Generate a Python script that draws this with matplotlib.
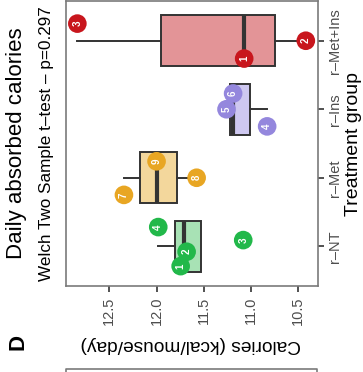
import matplotlib
matplotlib.use('Agg')
import matplotlib.pyplot as plt
from matplotlib.lines import Line2D

plt.rcParams['font.family'] = ['Liberation Sans', 'DejaVu Sans']

# data (calories per mouse per day)
groups = ['r–NT', 'r–Met', 'r–Ins', 'r–Met+Ins']
nt_values = [11.745, 11.682, 11.083, 11.982]
met_values = [12.345, 11.576, 12.000]
ins_values = [10.830, 11.260, 11.190]
metins_values = [11.073, 10.421, 12.838]
nt_ids = ['1', '2', '3', '4']
met_ids = ['7', '8', '9']
ins_ids = ['4', '5', '6']
metins_ids = ['1', '2', '3']
nt_jitter = [-0.29, -0.08, 0.09, 0.28]
met_jitter = [-0.25, 0.0, 0.24]
ins_jitter = [-0.25, 0.0, 0.23]
metins_jitter = [-0.26, 0.0, 0.25]

point_colors = ['#22B84A', '#E8A623', '#9487DD', '#C8161D']
fill_colors = ['#A8E2B5', '#F3D79C', '#CEC8F0', '#E39497']

values = [nt_values, met_values, ins_values, metins_values]
ids = [nt_ids, met_ids, ins_ids, metins_ids]
jitters = [nt_jitter, met_jitter, ins_jitter, metins_jitter]

W, H = 363, 372
fig = plt.figure(figsize=(W / 100, H / 100), dpi=100)
ax = fig.add_axes([66 / W, 1 - 286 / H, 252 / W, 285 / H])

pos = [1, 2, 3, 4]
bp = ax.boxplot(values, positions=pos, orientation='horizontal', widths=0.75,
                patch_artist=True, showfliers=False, showcaps=False, whis=1.5)
for patch, fc in zip(bp['boxes'], fill_colors):
    patch.set_facecolor(fc)
    patch.set_edgecolor('#333333')
    patch.set_linewidth(1.4)
for w in bp['whiskers']:
    w.set_color('#333333')
    w.set_linewidth(1.4)
for m in bp['medians']:
    m.set_color('#333333')
    m.set_linewidth(3)

for p, vals, labs, jit, col in zip(pos, values, ids, jitters, point_colors):
    for v, lab, j in zip(vals, labs, jit):
        ax.scatter(v, p + j, s=180, color=col, edgecolors='none', zorder=5)
        ax.text(v, p + j, lab, color='white', fontsize=7, fontweight='bold',
                rotation=90, ha='center', va='center', zorder=6)

ax.set_xlim(12.958, 10.292)
ax.set_ylim(0.42, 4.58)
ax.set_xticks([12.5, 12.0, 11.5, 11.0, 10.5])
ax.set_xticklabels(['12.5', '12.0', '11.5', '11.0', '10.5'], rotation=90,
                   fontsize=10.5, color='#4d4d4d')
ax.set_yticks(pos)
ax.set_yticklabels(groups, rotation=90, va='center', fontsize=10.5, color='#4d4d4d')
ax.yaxis.tick_right()
ax.tick_params(axis='x', length=4, width=1.2, color='#333333', pad=3.5)
ax.tick_params(axis='y', length=4, width=1.2, color='#333333', pad=3)
for s in ax.spines.values():
    s.set_color('#7a7a7a')
    s.set_linewidth(1.2)

def fx(x):
    return x / W

def fy(y):
    return 1 - y / H

fig.text(fx(17), fy(259), 'Daily absorbed calories', rotation=90,
         ha='center', va='bottom', fontsize=16)
fig.text(fx(47), fy(281), 'Welch Two Sample t–test – p=0.297', rotation=90,
         ha='center', va='bottom', fontsize=12.3)
fig.text(fx(354), fy(144), 'Treatment group', rotation=90,
         ha='center', va='center', fontsize=14)
fig.text(fx(191), fy(344), 'Calories (kcal/mouse/day)', rotation=180,
         ha='center', va='center', fontsize=13.8)
fig.text(fx(18), fy(342), 'D', rotation=90, ha='center', va='center',
         fontsize=16, fontweight='bold')

# top edge of the panel below
fig.add_artist(Line2D([fx(66), fx(66), fx(317), fx(317)],
                      [fy(380), fy(369), fy(369), fy(380)],
                      color='#7a7a7a', lw=1.2))

fig.savefig('out.png', dpi=100)
